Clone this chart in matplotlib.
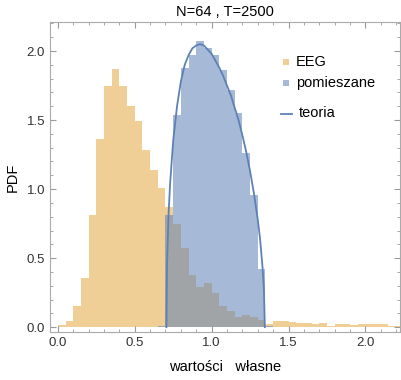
import numpy as np
import matplotlib
matplotlib.use("Agg")
import matplotlib.pyplot as plt
from matplotlib.ticker import MultipleLocator

plt.rcParams['font.family'] = ['Liberation Sans', 'DejaVu Sans']

# histogram bins, width 0.05
bin_width = 0.05

# EEG eigenvalues: bins starting at 0.00
eeg_start = 0.0
eeg_pdf = [0.015, 0.045, 0.15, 0.355, 0.81, 1.36, 1.75, 1.87, 1.75, 1.60,
           1.49, 1.28, 1.14, 1.01, 0.87, 0.75, 0.57, 0.38, 0.29, 0.32,
           0.25, 0.15, 0.12, 0.07, 0.09, 0.075, 0.05,
           0.02, 0.045, 0.045, 0.035, 0.03, 0.03, 0.02, 0.03, 0.01, 0.02,
           0.02, 0.015, 0.02, 0.025, 0.02, 0.02, 0.01, 0.01]

# shuffled ("pomieszane") eigenvalues: bins starting at 0.65
mix_start = 0.65
mix_pdf = [0.01, 0.81, 1.54, 1.88, 1.97, 2.07, 2.02, 1.97, 1.86, 1.72,
           1.55, 1.26, 0.96, 0.42, 0.01]

# theory curve
theory_x = [0.706, 0.71, 0.72, 0.73, 0.75, 0.775, 0.80, 0.825, 0.85, 0.875,
            0.90, 0.925, 0.95, 0.975, 1.00, 1.025, 1.05, 1.075, 1.10, 1.125,
            1.15, 1.175, 1.20, 1.225, 1.25, 1.275, 1.30, 1.315, 1.33, 1.34, 1.346]
theory_y = [0.0, 0.45, 0.82, 1.04, 1.35, 1.60, 1.78, 1.90, 1.97, 2.02,
            2.04, 2.05, 2.04, 2.01, 1.98, 1.93, 1.88, 1.82, 1.75, 1.68,
            1.59, 1.50, 1.39, 1.27, 1.13, 0.97, 0.78, 0.64, 0.45, 0.28, 0.0]

orange = (0.880722, 0.611041, 0.142051)
blue = (0.368417, 0.506779, 0.709798)

fig = plt.figure(figsize=(4.02, 3.80), dpi=100)
ax = fig.add_axes([0.124, 0.126, 0.871, 0.816])

eeg_left = eeg_start + bin_width * np.arange(len(eeg_pdf))
mix_left = mix_start + bin_width * np.arange(len(mix_pdf))

ax.bar(eeg_left, eeg_pdf, width=bin_width, align='edge', color=orange,
       alpha=0.48, linewidth=0)
ax.bar(mix_left, mix_pdf, width=bin_width, align='edge', color=blue,
       alpha=0.55, linewidth=0)
ax.plot(theory_x, theory_y, color=blue, linewidth=1.3)

ax.set_xlim(-0.052, 2.225)
ax.set_ylim(-0.036, 2.21)

# Mathematica-style frame ticks
ax.xaxis.set_major_locator(MultipleLocator(0.5))
ax.xaxis.set_minor_locator(MultipleLocator(0.1))
ax.yaxis.set_major_locator(MultipleLocator(0.5))
ax.yaxis.set_minor_locator(MultipleLocator(0.1))
ax.xaxis.set_major_formatter(plt.FuncFormatter(lambda v, p: f"{v:.1f}"))
ax.yaxis.set_major_formatter(plt.FuncFormatter(lambda v, p: f"{v:.1f}"))
ax.tick_params(which='both', direction='in', top=True, right=True,
               color='#999999', labelsize=9.5, labelcolor='#333333')
ax.tick_params(which='major', length=4, width=0.8)
ax.tick_params(which='minor', length=2, width=0.6)
for s in ax.spines.values():
    s.set_color('#aaaaaa')
    s.set_linewidth(0.8)

ax.set_title('N=64 , T=2500', fontsize=10.5, pad=4)
ax.set_xlabel('wartości   własne', fontsize=10.5, labelpad=8)
ax.set_ylabel('PDF', fontsize=10.5, labelpad=5)

# legend drawn by hand to match the uneven spacing
ax.scatter([0.675], [0.871], marker='s', s=22, color=orange, alpha=0.48,
           linewidths=0, transform=ax.transAxes)
ax.scatter([0.675], [0.803], marker='s', s=22, color=blue, alpha=0.55,
           linewidths=0, transform=ax.transAxes)
ax.plot([0.660, 0.692], [0.703, 0.703], color=blue, linewidth=1.3,
        transform=ax.transAxes)
ax.text(0.702, 0.871, 'EEG', fontsize=10.5, va='center', transform=ax.transAxes)
ax.text(0.702, 0.803, 'pomieszane', fontsize=10.5, va='center', transform=ax.transAxes)
ax.text(0.712, 0.706, 'teoria', fontsize=10.5, va='center', transform=ax.transAxes)

fig.savefig('out.png', dpi=100)
